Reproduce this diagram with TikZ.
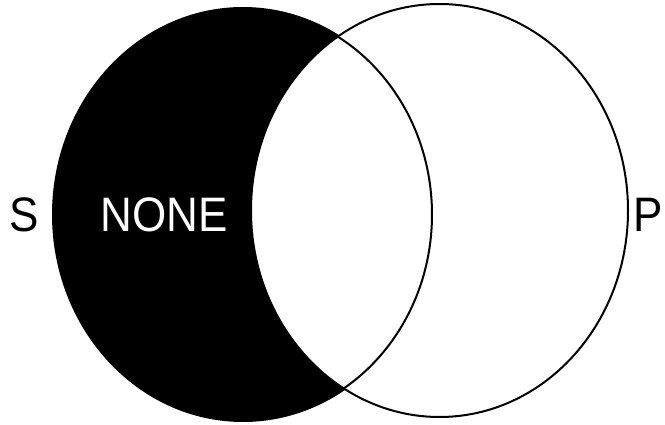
\documentclass[tikz,border=0pt]{standalone}
\usepackage{fontspec}
\setmainfont{Liberation Sans}
\usetikzlibrary{shapes.geometric}
\newcommand{\tallx}[1]{\scalebox{1}[1.1]{#1}}
\begin{document}
\begin{tikzpicture}[x=1pt,y=-1pt,
  setshape/.style={ellipse, draw=black, line width=2pt, inner sep=0pt},
  lbl/.style={font=\fontsize{44}{44}\selectfont, inner sep=0pt}]
\useasboundingbox (0,0) rectangle (665,425);
\fill[white] (0,0) rectangle (665,425);
\node[setshape, fill=black, minimum width=380pt, minimum height=413pt] (Sset) at (243,214.5) {};
\node[setshape, fill=white, minimum width=377pt, minimum height=413pt] (Pset) at (439.5,210.5) {};
\draw[line width=2pt] (243,214.5) ellipse [x radius=189pt, y radius=205.5pt];
\node[lbl] (S) at (24,215) {\tallx{S}};
\node[lbl, text=white] (none) at (164,215) {\tallx{NONE}};
\node[lbl] (P) at (648,215) {\tallx{P}};
\end{tikzpicture}
\end{document}
